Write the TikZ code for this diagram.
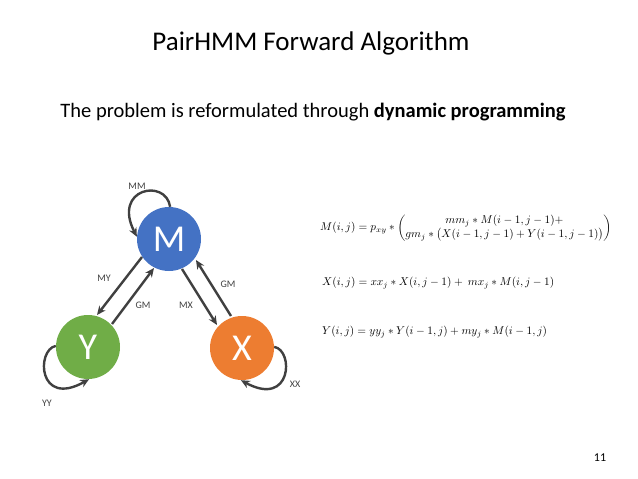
\documentclass[tikz,border=0pt]{standalone}
\usepackage{fix-cm}
\usepackage{fontspec}
\setmainfont{Carlito}
\usepackage{amsmath}
\usetikzlibrary{arrows.meta}
\definecolor{mblue}{HTML}{4472C4}
\definecolor{ygreen}{HTML}{70AD47}
\definecolor{xorange}{HTML}{ED7D31}
\definecolor{arrgray}{HTML}{404040}
\begin{document}
\begin{tikzpicture}[x=1pt,y=-1pt,
  state/.style={circle,minimum size=64pt,inner sep=0pt,text=white,font=\fontsize{38}{40}\selectfont},
  arr/.style={draw=arrgray,line width=2.4pt,-{Stealth[length=9pt,width=8pt]}},
  lbl/.style={font=\fontsize{10}{12}\selectfont,text=arrgray},
  eq/.style={anchor=west,font=\fontsize{11.3}{13}\selectfont,inner sep=0pt}]
\useasboundingbox (0,0) rectangle (638,479);
\node (title) at (311,43) {\fontsize{27}{32}\selectfont PairHMM Forward Algorithm};
\node (sub) at (313,112) {\fontsize{20.5}{25}\selectfont The problem is reformulated through \textbf{dynamic programming}};
\node[state,fill=mblue] (M) at (169,239) {M};
\node[state,fill=ygreen] (Y) at (88,347) {Y};
\node[state,fill=xorange] (X) at (242,348) {X};
\coordinate (my1) at (142,257); \coordinate (my2) at (97,315);
\coordinate (gy1) at (112,324); \coordinate (gy2) at (154,268);
\coordinate (mx1) at (182,269); \coordinate (mx2) at (217,325);
\coordinate (gx1) at (231,316); \coordinate (gx2) at (196,260);
\draw[arr] (my1) -- (my2);
\draw[arr] (gy1) -- (gy2);
\draw[arr] (mx1) -- (mx2);
\draw[arr] (gx1) -- (gx2);
\draw[arr] (M.88) .. controls (166,178) and (112,188) .. (M.176);
\draw[arr] (Y.178) .. controls (36,350) and (38,408) .. (Y.272);
\draw[arr] (X.2) .. controls (294,350) and (292,408) .. (X.268);
\node[lbl] (lmm) at (137,186) {MM};
\node[lbl] (lmy) at (104,278) {MY};
\node[lbl] (lgy) at (143,305) {GM};
\node[lbl] (lmx) at (186,305) {MX};
\node[lbl] (lgx) at (228,284) {GM};
\node[lbl] (lyy) at (47,403) {YY};
\node[lbl] (lxx) at (295,384) {XX};
\node[eq] (eqm) at (320,228) {$M(i,j)=p_{xy}\ast\left(\begin{array}{@{}c@{}}mm_j\ast M(i-1,j-1)+\\ gm_j\ast\big(X(i-1,j-1)+Y(i-1,j-1)\big)\end{array}\right)$};
\node[eq] (eqx) at (322,283) {$X(i,j)=xx_j\ast X(i,j-1)+\ mx_j\ast M(i,j-1)$};
\node[eq] (eqy) at (322,332) {$Y(i,j)=yy_j\ast Y(i-1,j)+my_j\ast M(i-1,j)$};
\node[font=\fontsize{12}{14}\selectfont] (pg) at (600,458) {11};
\end{tikzpicture}
\end{document}
